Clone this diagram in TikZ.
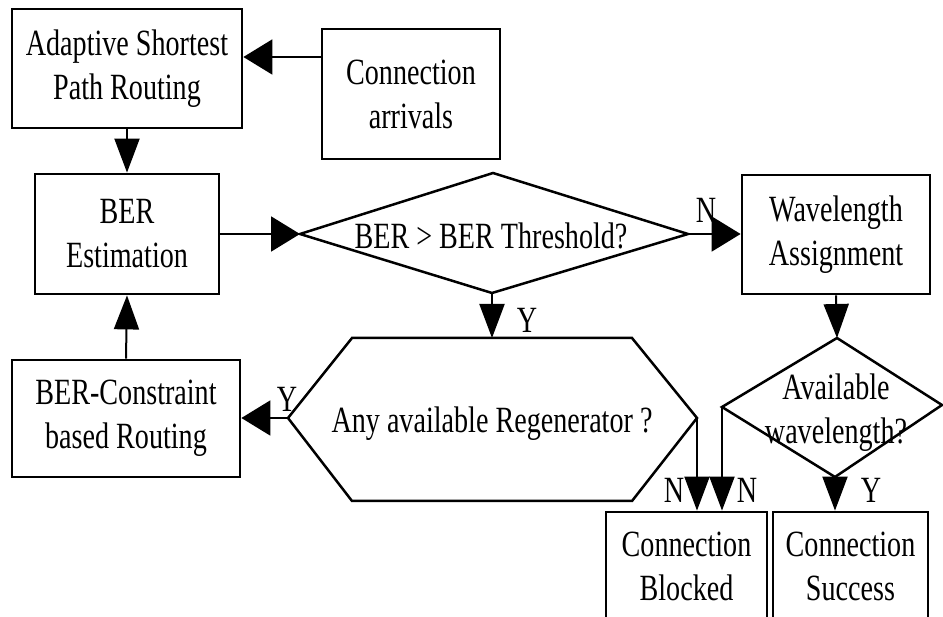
\documentclass[tikz,border=0pt]{standalone}
\usepackage{fontspec}
\setmainfont{Liberation Serif}[FakeStretch=0.76]
\usetikzlibrary{arrows.meta,calc}
\begin{document}
\begin{tikzpicture}[x=1pt,y=-1pt,
  every node/.style={font=\fontsize{37}{44}\selectfont},
  procbox/.style={draw,line width=2.8pt,align=center,inner sep=0pt},
  flow/.style={line width=2pt},
  harr/.style={flow,-{Triangle[length=29pt,width=35pt]}},
  varr/.style={flow,-{Triangle[length=34pt,width=25pt]}},
  decision/.style={draw,line width=2.5pt,line join=miter},
  lbl/.style={inner sep=0pt}
]
\useasboundingbox (0,0) rectangle (943,617);
\clip (0,0) rectangle (943,617);

% process boxes
\node[procbox,minimum width=230pt,minimum height=119pt] (asp) at (127,68.5) {Adaptive Shortest\\Path Routing};
\node[procbox,minimum width=178pt,minimum height=130pt] (arr) at (411,94) {Connection\\arrivals};
\node[procbox,minimum width=184pt,minimum height=120pt] (ber) at (127,234) {BER\\Estimation};
\node[procbox,minimum width=228pt,minimum height=117pt] (bc) at (126,418.5) {BER-Constraint\\based Routing};
\node[procbox,minimum width=188pt,minimum height=119pt] (wa) at (836,234.5) {Wavelength\\Assignment};
\node[procbox,minimum width=161pt,minimum height=108pt] (cb) at (686.5,566) {Connection\\Blocked};
\node[procbox,minimum width=155pt,minimum height=108pt] (cs) at (850.5,566) {Connection\\Success};

% threshold decision
\coordinate (d1L) at (300,234);
\coordinate (d1T) at (493,173);
\coordinate (d1R) at (688,234);
\coordinate (d1B) at (492,293);
\draw[decision] (d1L) -- (d1T) -- (d1R) -- (d1B) -- cycle;
\node[lbl] (d1txt) at (491,236) {BER > BER Threshold?};

% regenerator decision
\coordinate (hxL) at (288,418);
\coordinate (hxTL) at (352,338);
\coordinate (hxT) at (492,338);
\coordinate (hxTR) at (632,338);
\coordinate (hxR) at (697,418);
\coordinate (hxBR) at (632,501);
\coordinate (hxBL) at (352,501);
\draw[decision] (hxL) -- (hxTL) -- (hxTR) -- (hxR) -- (hxBR) -- (hxBL) -- cycle;
\node[lbl] (hxtxt) at (492,424) {Any available Regenerator ?};

% wavelength decision
\coordinate (d2L) at (722,407);
\coordinate (d2T) at (837,338);
\coordinate (d2R) at (942,405);
\coordinate (d2B) at (835,477);
\draw[decision] (d2L) -- (d2T) -- (d2R) -- (d2B) -- cycle;
\node[lbl,align=center] (d2txt) at (836,413) {Available\\wavelength?};

% connectors
\coordinate (arrIn) at (322,57);
\draw[harr] (arrIn) -- (arrIn -| asp.east);
\draw[varr] (asp.south) -- (ber.north);
\draw[harr] (ber.east) -- (d1L);
\draw[harr] (d1R) -- (d1R -| wa.west);
\draw[varr] (d1B) -- (hxT);
\draw[harr] (hxL) -- (hxL -| bc.east);
\draw[varr] (bc.north) -- (ber.south);
\draw[varr] (wa.south) -- (d2T);
\draw[varr] (hxR) -- (hxR |- cb.north);
\draw[varr] (d2L) -- (d2L |- cb.north);
\draw[varr] (d2B) -- (d2B |- cs.north);

% branch labels
\node[lbl] (n1) at (706,210) {N};
\node[lbl] (y1) at (527,320) {Y};
\node[lbl] (y2) at (287,399) {Y};
\node[lbl] (n2) at (674,490) {N};
\node[lbl] (n3) at (747,490) {N};
\node[lbl] (y3) at (871,490) {Y};
\end{tikzpicture}
\end{document}
